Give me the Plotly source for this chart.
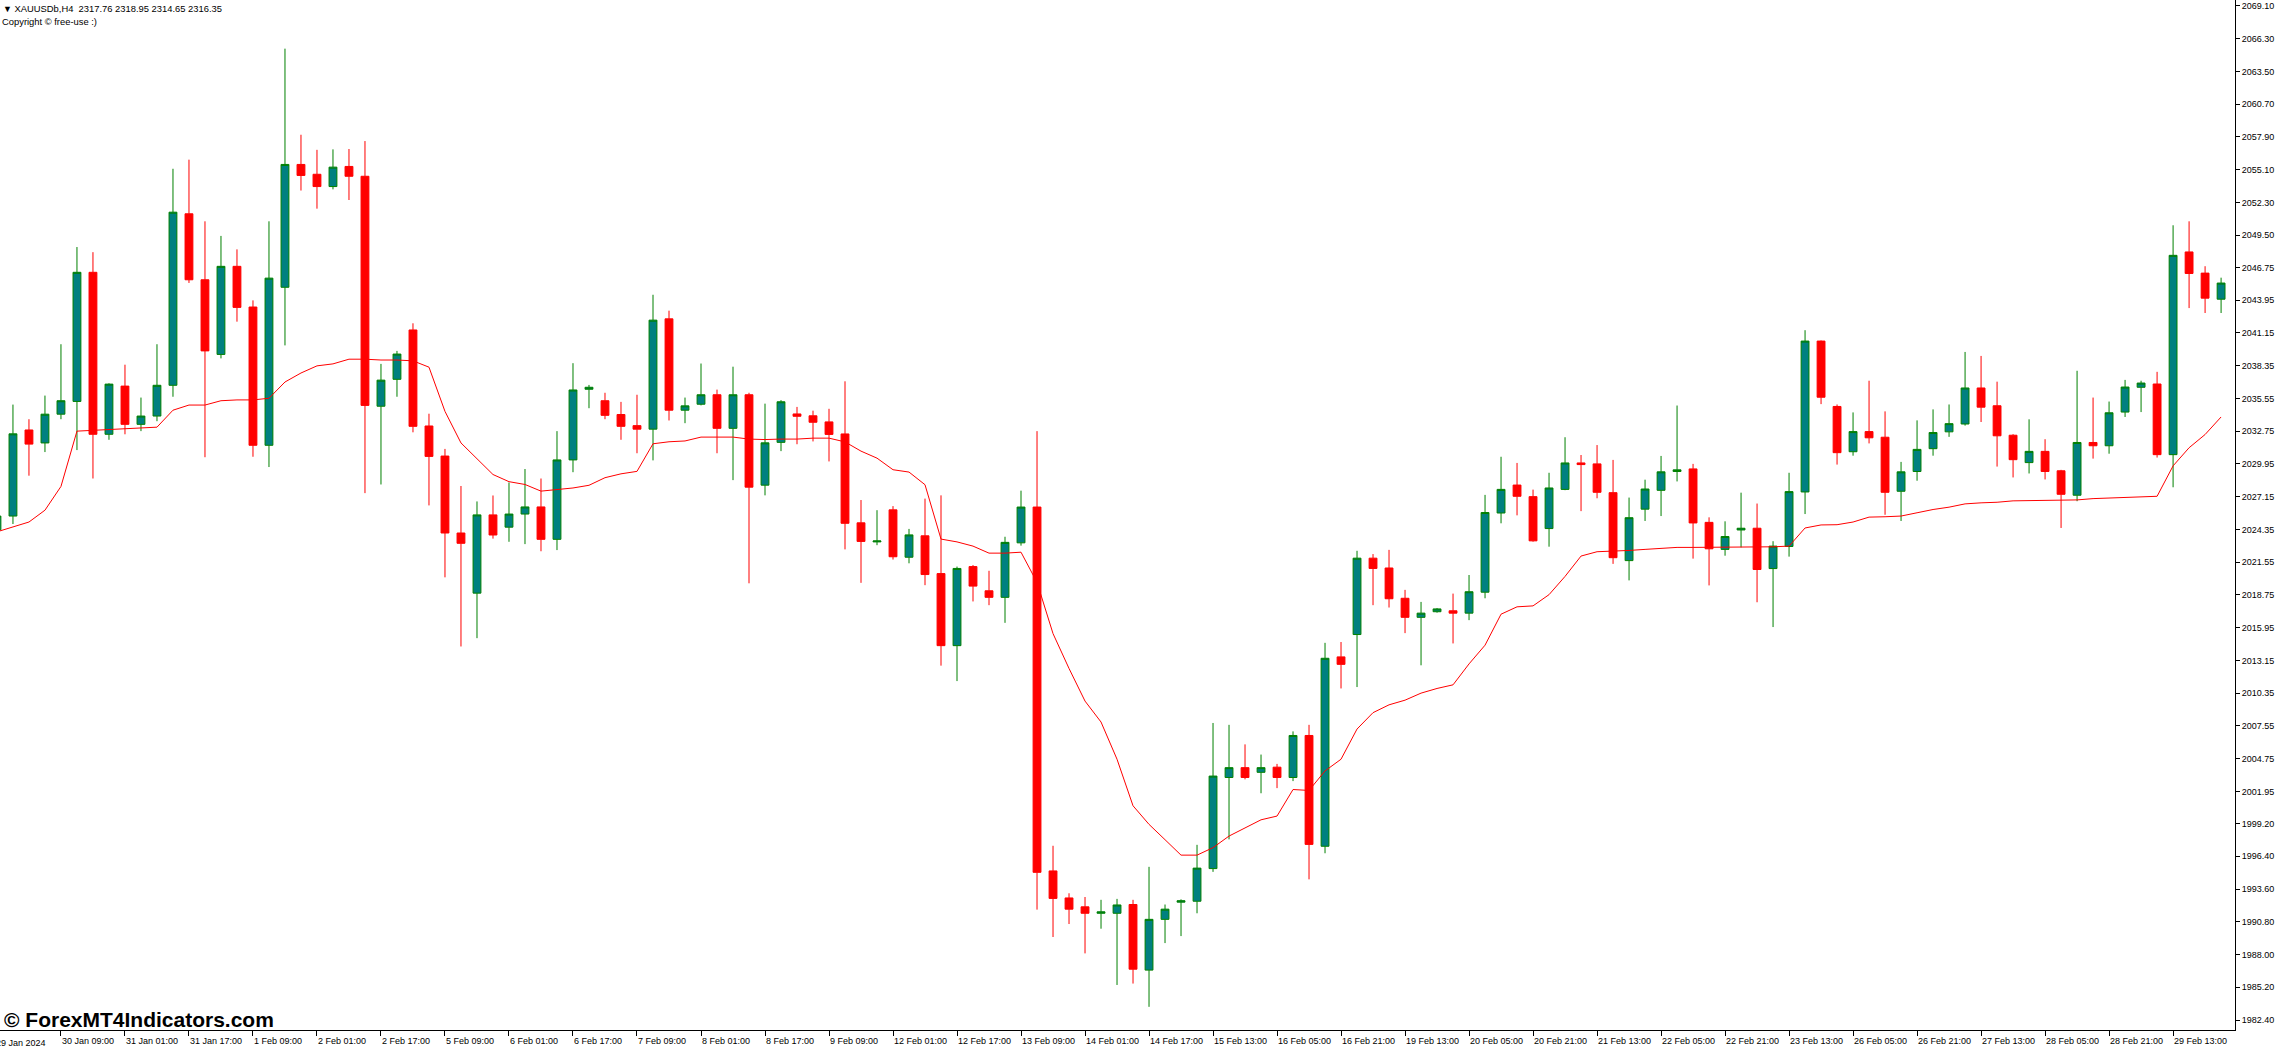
import plotly.graph_objects as go

# XAUUSDb H4 candles (bar index 0 = 29 Jan 17:00)
opens = [
    2024.31, 2025.49, 2032.85, 2031.74, 2034.20, 2035.29, 2046.33, 2032.48, 2036.60, 2033.33,
    2034.04, 2036.67, 2051.33, 2045.69, 2039.31, 2046.84, 2043.36, 2031.54, 2045.05, 2055.55,
    2054.71, 2053.66, 2055.38, 2054.54, 2034.88, 2037.18, 2041.40, 2033.19, 2030.62, 2024.04,
    2018.90, 2025.59, 2024.54, 2025.66, 2026.27, 2023.50, 2030.29, 2036.33, 2035.35, 2034.17,
    2033.22, 2032.92, 2042.35, 2034.54, 2035.05, 2035.86, 2032.99, 2035.86, 2028.13, 2031.79,
    2034.22, 2034.06, 2033.54, 2032.51, 2024.91, 2023.28, 2026.02, 2021.97, 2023.80, 2020.57,
    2014.41, 2021.17, 2019.10, 2018.54, 2023.20, 2026.26, 1995.15, 1992.84, 1992.08, 1991.53,
    1991.53, 1992.28, 1986.67, 1991.01, 1992.48, 1992.56, 1995.35, 2003.14, 2003.98, 2003.58,
    2004.02, 2003.14, 2006.73, 1997.26, 2013.45, 2015.36, 2021.89, 2021.05, 2018.46, 2016.83,
    2017.31, 2017.39, 2017.19, 2018.98, 2025.75, 2028.14, 2027.15, 2024.42, 2027.77, 2030.03,
    2029.95, 2027.49, 2021.68, 2026.08, 2027.69, 2029.30, 2029.52, 2024.95, 2022.64, 2024.30,
    2024.45, 2021.00, 2022.89, 2027.55, 2040.45, 2034.86, 2030.99, 2032.71, 2032.23, 2027.61,
    2029.30, 2031.25, 2032.69, 2033.36, 2036.44, 2034.92, 2032.40, 2030.06, 2031.02, 2029.36,
    2027.27, 2031.78, 2031.50, 2034.38, 2036.50, 2036.78, 2030.74, 2048.07, 2046.26, 2044.03,
]
highs = [
    2025.83, 2035.02, 2033.77, 2035.79, 2040.18, 2048.49, 2048.05, 2036.84, 2038.43, 2035.62,
    2040.18, 2055.18, 2055.96, 2050.69, 2049.44, 2048.29, 2043.93, 2050.69, 2065.45, 2058.09,
    2056.80, 2056.84, 2056.87, 2057.55, 2038.50, 2039.61, 2041.97, 2034.24, 2031.23, 2028.06,
    2026.74, 2027.25, 2028.36, 2029.51, 2028.70, 2032.75, 2038.56, 2036.70, 2036.03, 2035.25,
    2035.86, 2044.41, 2043.05, 2035.62, 2038.53, 2036.30, 2038.26, 2036.03, 2035.10, 2035.40,
    2034.82, 2034.50, 2034.66, 2037.01, 2026.86, 2025.99, 2026.34, 2024.39, 2026.98, 2027.26,
    2021.17, 2021.30, 2020.81, 2023.72, 2027.66, 2032.75, 1997.30, 1993.24, 1992.92, 1992.68,
    1992.76, 1992.68, 1995.50, 1992.28, 1992.72, 1997.38, 2007.80, 2007.64, 2005.97, 2005.10,
    2004.30, 2007.08, 2007.64, 2014.65, 2014.72, 2022.52, 2022.24, 2022.60, 2019.18, 2018.15,
    2017.63, 2018.86, 2020.45, 2027.30, 2030.56, 2030.03, 2027.75, 2029.19, 2032.23, 2030.71,
    2031.56, 2030.29, 2027.07, 2028.60, 2030.63, 2034.94, 2029.95, 2025.38, 2025.04, 2027.49,
    2026.56, 2023.34, 2029.19, 2041.38, 2040.50, 2035.03, 2034.35, 2037.06, 2034.44, 2030.12,
    2033.67, 2034.61, 2035.03, 2039.52, 2039.18, 2036.98, 2032.49, 2033.76, 2032.06, 2029.44,
    2037.91, 2035.62, 2035.28, 2037.13, 2037.06, 2037.82, 2050.35, 2050.69, 2046.85, 2045.87,
]
lows = [
    2023.97, 2024.81, 2028.94, 2030.96, 2033.77, 2031.13, 2028.70, 2032.01, 2032.48, 2032.75,
    2033.60, 2035.69, 2045.42, 2030.52, 2038.97, 2042.11, 2030.56, 2029.68, 2040.08, 2053.32,
    2051.77, 2053.42, 2052.51, 2027.45, 2028.19, 2035.69, 2032.65, 2026.40, 2020.25, 2014.34,
    2015.05, 2023.56, 2023.29, 2023.09, 2022.48, 2022.58, 2029.24, 2034.71, 2033.77, 2032.01,
    2030.86, 2030.25, 2033.66, 2033.43, 2034.95, 2030.86, 2028.56, 2019.74, 2027.26, 2031.04,
    2031.63, 2031.87, 2030.16, 2022.64, 2019.78, 2023.00, 2021.77, 2021.45, 2019.58, 2012.70,
    2011.38, 2018.19, 2017.87, 2016.36, 2022.96, 1991.84, 1989.50, 1990.61, 1988.10, 1990.21,
    1985.40, 1985.52, 1983.53, 1988.98, 1989.58, 1991.53, 1995.07, 1997.85, 2002.98, 2001.79,
    2002.23, 2002.83, 1994.43, 1996.66, 2010.75, 2010.87, 2017.87, 2017.67, 2015.48, 2012.73,
    2017.23, 2014.60, 2016.59, 2018.46, 2024.87, 2025.55, 2023.30, 2022.87, 2027.70, 2025.91,
    2027.01, 2021.40, 2019.99, 2025.07, 2025.49, 2028.45, 2021.85, 2019.56, 2022.10, 2022.81,
    2018.12, 2016.00, 2022.02, 2025.66, 2035.06, 2029.89, 2030.65, 2031.70, 2025.60, 2025.07,
    2028.51, 2030.65, 2032.26, 2033.22, 2033.53, 2029.72, 2028.79, 2029.13, 2028.62, 2024.47,
    2026.76, 2030.40, 2030.82, 2033.96, 2034.38, 2030.49, 2027.95, 2043.27, 2042.85, 2042.85,
]
closes = [
    2025.49, 2032.52, 2031.64, 2034.20, 2035.35, 2046.33, 2032.48, 2036.77, 2033.33, 2034.04,
    2036.67, 2051.47, 2045.69, 2039.61, 2046.84, 2043.33, 2031.54, 2045.83, 2055.55, 2054.61,
    2053.66, 2055.32, 2054.54, 2034.95, 2037.11, 2039.34, 2033.16, 2030.59, 2024.04, 2023.16,
    2025.59, 2023.87, 2025.66, 2026.27, 2023.50, 2030.29, 2036.27, 2036.50, 2034.10, 2033.16,
    2032.92, 2042.24, 2034.54, 2034.91, 2035.86, 2032.99, 2035.86, 2027.96, 2031.75, 2035.26,
    2034.02, 2033.51, 2032.47, 2024.87, 2023.32, 2023.36, 2022.01, 2023.88, 2020.49, 2014.41,
    2021.01, 2019.50, 2018.54, 2023.24, 2026.26, 1995.03, 1992.80, 1991.88, 1991.53, 1991.65,
    1992.24, 1986.75, 1991.01, 1991.88, 1992.60, 1995.39, 2003.26, 2003.98, 2003.14, 2003.98,
    2003.14, 2006.73, 1997.42, 2013.33, 2012.81, 2021.89, 2021.01, 2018.42, 2016.83, 2017.19,
    2017.55, 2017.19, 2019.02, 2025.79, 2027.77, 2027.18, 2023.37, 2027.89, 2030.03, 2029.89,
    2027.52, 2021.93, 2025.35, 2027.80, 2029.27, 2029.44, 2024.90, 2022.69, 2023.74, 2024.45,
    2020.92, 2022.92, 2027.58, 2040.45, 2035.65, 2030.91, 2032.71, 2032.18, 2027.52, 2029.27,
    2031.19, 2032.63, 2033.39, 2036.44, 2034.80, 2032.35, 2030.31, 2031.02, 2029.30, 2027.35,
    2031.78, 2031.50, 2034.32, 2036.52, 2036.86, 2030.74, 2047.78, 2046.23, 2044.12, 2045.41,
]
# red moving average line
ma = [
    2024.14, 2024.58, 2024.98, 2025.99, 2028.02, 2032.75, 2032.82, 2032.89, 2032.92, 2032.99,
    2033.09, 2034.54, 2034.98, 2034.98, 2035.35, 2035.42, 2035.42, 2035.56, 2036.95, 2037.72,
    2038.33, 2038.50, 2038.90, 2038.90, 2038.83, 2038.83, 2038.76, 2038.22, 2034.44, 2031.74,
    2030.39, 2029.04, 2028.43, 2028.19, 2027.62, 2027.75, 2027.89, 2028.12, 2028.77, 2029.10,
    2029.31, 2031.67, 2031.84, 2031.91, 2032.24, 2032.24, 2032.24, 2032.07, 2032.03, 2032.07,
    2032.07, 2032.15, 2032.15, 2031.83, 2031.04, 2030.44, 2029.45, 2029.25, 2028.17, 2023.52,
    2023.28, 2022.92, 2022.32, 2022.32, 2022.40, 2019.82, 2015.44, 2012.46, 2009.67, 2007.88,
    2004.70, 2000.72, 1999.13, 1997.82, 1996.50, 1996.50, 1997.14, 1998.13, 1998.85, 1999.52,
    1999.84, 2002.11, 2002.03, 2003.70, 2004.70, 2007.28, 2008.68, 2009.35, 2009.75, 2010.35,
    2010.75, 2011.06, 2012.85, 2014.45, 2017.10, 2017.73, 2017.81, 2018.77, 2020.33, 2022.07,
    2022.44, 2022.47, 2022.55, 2022.64, 2022.72, 2022.81, 2022.81, 2022.81, 2022.81, 2022.86,
    2022.86, 2022.86, 2022.92, 2024.47, 2024.73, 2024.75, 2024.98, 2025.40, 2025.43, 2025.49,
    2025.77, 2026.05, 2026.25, 2026.53, 2026.62, 2026.67, 2026.79, 2026.81, 2026.87, 2026.87,
    2026.87, 2026.98, 2027.04, 2027.07, 2027.18, 2027.18, 2029.78, 2031.33, 2032.46, 2033.96,
]

time_labels = [
    "29 Jan 2024", "30 Jan 09:00", "31 Jan 01:00", "31 Jan 17:00", "1 Feb 09:00",
    "2 Feb 01:00", "2 Feb 17:00", "5 Feb 09:00", "6 Feb 01:00", "6 Feb 17:00",
    "7 Feb 09:00", "8 Feb 01:00", "8 Feb 17:00", "9 Feb 09:00", "12 Feb 01:00",
    "12 Feb 17:00", "13 Feb 09:00", "14 Feb 01:00", "14 Feb 17:00", "15 Feb 13:00",
    "16 Feb 05:00", "16 Feb 21:00", "19 Feb 13:00", "20 Feb 05:00", "20 Feb 21:00",
    "21 Feb 13:00", "22 Feb 05:00", "22 Feb 21:00", "23 Feb 13:00", "26 Feb 05:00",
    "26 Feb 21:00", "27 Feb 13:00", "28 Feb 05:00", "28 Feb 21:00", "29 Feb 13:00",
]
price_ticks = [
    "2069.10", "2066.30", "2063.50", "2060.70", "2057.90", "2055.10", "2052.30", "2049.50",
    "2046.75", "2043.95", "2041.15", "2038.35", "2035.55", "2032.75", "2029.95", "2027.15",
    "2024.35", "2021.55", "2018.75", "2015.95", "2013.15", "2010.35", "2007.55", "2004.75",
    "2001.95", "1999.20", "1996.40", "1993.60", "1990.80", "1988.00", "1985.20", "1982.40",
]

bars = list(range(len(opens)))
label_bars = bars[::4]
FONT = "Liberation Sans, Arial, sans-serif"

fig = go.Figure()
fig.add_trace(go.Candlestick(
    x=bars, open=opens, high=highs, low=lows, close=closes,
    increasing=dict(line=dict(color="#008000", width=1), fillcolor="#008080"),
    decreasing=dict(line=dict(color="#FF0000", width=1), fillcolor="#FF0000"),
    whiskerwidth=0, showlegend=False, hoverinfo="skip",
))
fig.add_trace(go.Scatter(
    x=bars, y=ma, mode="lines", line=dict(color="#FF0000", width=1),
    showlegend=False, hoverinfo="skip",
))

fig.update_layout(
    width=2275, height=1050,
    margin=dict(l=0, r=40, t=0, b=20, autoexpand=False),
    paper_bgcolor="white", plot_bgcolor="white",
    font=dict(family=FONT, size=9, color="black"),
    xaxis=dict(
        range=[0.19, 139.87], rangeslider=dict(visible=False),
        showgrid=False, zeroline=False, automargin=False,
        showline=True, linecolor="black", linewidth=1, mirror=True,
        ticks="outside", ticklen=5, tickcolor="black",
        tickvals=label_bars[1:], ticktext=time_labels[1:],
        tickangle=0, ticklabelposition="outside right", ticklabelstandoff=2,
        tickfont=dict(family=FONT, size=9, color="black"),
    ),
    yaxis=dict(
        side="right", range=[1981.55, 2069.61],
        showgrid=False, zeroline=False, automargin=False,
        showline=True, linecolor="black", linewidth=1,
        ticks="outside", ticklen=4, tickcolor="black",
        tickvals=[float(t) for t in price_ticks], ticktext=price_ticks,
        tickfont=dict(family=FONT, size=9, color="black"),
    ),
)

# first date label sits at the clipped left edge
fig.add_annotation(x=0, y=0, xref="paper", yref="paper", xanchor="left", yanchor="top",
                   xshift=-6, yshift=-6, text=time_labels[0], showarrow=False,
                   font=dict(family=FONT, size=9, color="black"))

# chart header
fig.add_annotation(x=0, y=1, xref="paper", yref="paper", xanchor="left", yanchor="top",
                   xshift=1, yshift=-1, showarrow=False,
                   text="<span style='font-size:9px'>▼</span>&nbsp;XAUUSDb,H4&nbsp;&nbsp;2317.76 2318.95 2314.65 2316.35",
                   font=dict(family=FONT, size=9.4, color="black"))
fig.add_annotation(x=0, y=1, xref="paper", yref="paper", xanchor="left", yanchor="top",
                   xshift=0, yshift=-14, showarrow=False, text="Copyright © free-use :)",
                   font=dict(family=FONT, size=9.4, color="black"))

# watermark
fig.add_annotation(x=0, y=0, xref="paper", yref="paper", xanchor="left", yanchor="bottom",
                   xshift=2, yshift=-3, showarrow=False, text="<b>© ForexMT4Indicators.com</b>",
                   font=dict(family=FONT, size=21, color="black"))

# page without the default body margin so the chart fills the window
fig.write_html("out.html", config={"displayModeBar": False},
               post_script="document.body.style.margin='0px';")
